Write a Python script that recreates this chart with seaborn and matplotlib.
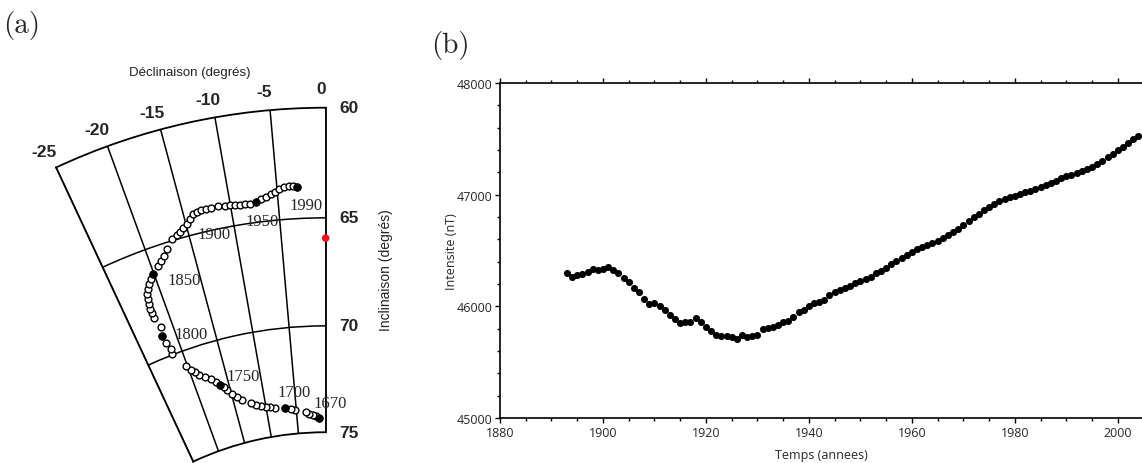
import numpy as np
import matplotlib
matplotlib.use("Agg")
import matplotlib.pyplot as plt
from matplotlib.ticker import MultipleLocator
import seaborn as sns

# (a) trajectoire : declinaison / inclinaison en degres, de 1670 a 1990
decl_path = [-1.15, -1.71, -2.26, -2.83, -3.38, -5.19, -5.85, -6.95, -8.58, -9.27,
             -10.03, -10.81, -11.58, -12.32, -13.62, -14.33, -14.98, -15.46, -15.79, -16.37,
             -16.80, -17.41, -18.10, -18.80, -19.35, -19.81, -20.18, -21.37, -21.34, -21.64,
             -21.80, -21.49, -21.85, -21.88, -21.92, -21.81, -21.76, -21.62, -21.33, -20.91,
             -20.56, -20.11, -19.32, -18.79, -18.26, -17.75, -16.83, -16.26, -15.82, -15.37,
             -14.92, -14.45, -14.01, -13.57, -13.06, -12.60, -12.07, -11.24, -10.59, -10.03,
             -9.55, -9.00, -8.47, -7.98, -7.33, -6.78, -6.24, -5.69, -5.26, -4.80,
             -4.27, -3.75, -3.30, -2.90]
incl_path = [74.33, 74.24, 74.17, 74.10, 74.02, 73.88, 73.83, 73.76, 73.67, 73.62,
             73.57, 73.49, 73.39, 73.26, 73.01, 72.82, 72.63, 72.38, 72.21, 72.07,
             71.85, 71.67, 71.49, 71.30, 71.13, 70.98, 70.71, 69.97, 69.73, 69.36,
             69.00, 68.60, 68.08, 67.83, 67.65, 67.42, 67.18, 66.95, 66.75, 66.53,
             66.37, 66.19, 65.90, 65.73, 65.56, 65.30, 64.94, 64.80, 64.70, 64.60,
             64.46, 64.28, 64.09, 64.02, 63.99, 64.00, 64.00, 63.97, 64.01, 64.03,
             64.06, 64.10, 64.10, 64.11, 64.07, 63.98, 63.90, 63.80, 63.71, 63.60,
             63.52, 63.49, 63.50, 63.56]
# points noirs (1670, 1700, 1750, 1800, 1850, 1950, 1990)
decl_dark = [-1.15, -6.95, -16.37, -21.80, -20.11, -7.33, -2.90]
incl_dark = [74.33, 73.76, 72.07, 69.00, 66.19, 64.07, 63.56]
# point actuel (rouge)
decl_now = [0.0]
incl_now = [65.93]

decl_ticks = [-25, -20, -15, -10, -5, 0]
incl_ticks = [60, 65, 70, 75]
year_labels = ["1670", "1700", "1750", "1800", "1850", "1900", "1950", "1990"]

# (b) intensite du champ (nT), une valeur par an
years = list(range(1893, 2005))
intensity = [46300, 46262, 46283, 46289, 46307, 46331, 46322, 46337, 46355, 46325,
             46298, 46251, 46218, 46167, 46125, 46063, 46021, 46030, 46006, 45964,
             45922, 45886, 45851, 45860, 45863, 45893, 45863, 45815, 45779, 45746,
             45737, 45731, 45722, 45707, 45740, 45722, 45737, 45746, 45794, 45803,
             45818, 45836, 45860, 45866, 45908, 45946, 45967, 46000, 46030, 46042,
             46060, 46104, 46125, 46146, 46167, 46185, 46206, 46224, 46242, 46262,
             46295, 46320, 46346, 46379, 46409, 46436, 46460, 46490, 46510, 46528,
             46549, 46570, 46585, 46609, 46636, 46663, 46692, 46731, 46767, 46797,
             46830, 46862, 46889, 46916, 46940, 46961, 46979, 46991, 47009, 47024,
             47036, 47051, 47069, 47084, 47104, 47125, 47146, 47167, 47179, 47197,
             47209, 47227, 47245, 47271, 47301, 47334, 47361, 47397, 47430, 47463,
             47499, 47528]


def stereo(inc):
    # projection stereographique de l'inclinaison
    return np.tan(np.radians(90 - np.asarray(inc, dtype=float)) / 2)


sns.set_style("ticks")
plt.rcParams['font.family'] = ['Liberation Sans', 'DejaVu Sans']

fig = plt.figure(figsize=(11.42, 4.64), dpi=100)

# ---------- (a) ----------
ax_a = fig.add_axes([0.0122, 0.0030, 0.3099, 0.7627], projection='polar')
ax_a.set_theta_zero_location('N')
ax_a.set_theta_direction(-1)

sns.scatterplot(x=np.radians(decl_path), y=stereo(incl_path), ax=ax_a, s=24,
                marker='o', facecolor='white', edgecolor='black', linewidth=1.0, zorder=3)
sns.scatterplot(x=np.radians(decl_dark), y=stereo(incl_dark), ax=ax_a, s=24,
                color='black', edgecolor='black', linewidth=1.0, zorder=4)
sns.scatterplot(x=np.radians(decl_now), y=stereo(incl_now), ax=ax_a, s=30,
                color='#e8141c', edgecolor='none', linewidth=0, zorder=5, clip_on=False)

ax_a.set_xticks(np.radians(decl_ticks))
ax_a.set_yticks(stereo([65, 70]))
ax_a.set_xticklabels([])
ax_a.set_yticklabels([])
ax_a.tick_params(length=0)
ax_a.grid(True, color='black', linewidth=1.1, linestyle='-')
for sp in ax_a.spines.values():
    sp.set_color('black')
    sp.set_linewidth(1.3)
ax_a.set_xlabel('')
ax_a.set_ylabel('')
ax_a.set_thetamin(-25)
ax_a.set_thetamax(0)
ax_a.set_ylim(stereo(75), stereo(60))
ax_a.set_rorigin(0)

r_top = float(stereo(60))
for d in decl_ticks:
    ax_a.text(np.radians(d - 0.35), r_top * 1.03, str(d), ha='center', va='center',
              fontsize=12.5, fontweight='bold', clip_on=False)
for i in incl_ticks:
    ax_a.annotate(str(i), xy=(0, stereo(i)), xytext=(17, 0), textcoords='offset points',
                  ha='center', va='center', fontsize=12.5, fontweight='bold',
                  annotation_clip=False)

label_pos = [(0.82, 73.6), (-5.11, 73.03), (-12.55, 71.9), (-18.14, 69.37),
             (-16.95, 66.89), (-12.34, 65.18), (-6.87, 64.96), (-2.12, 64.39)]
for lab, (d, i) in zip(year_labels, label_pos):
    ax_a.text(np.radians(d), stereo(i), lab, ha='center', va='center', fontsize=12,
              family='Liberation Serif', clip_on=False, zorder=6)

fig.text(0.1664, 0.8427, 'Déclinaison (degrés)', ha='center', va='center', fontsize=9.5,
         color='#222222')
fig.text(0.338, 0.418, 'Inclinaison (degrés)', ha='center', va='center', fontsize=10,
         rotation=90, color='#222222')

# ---------- (b) ----------
ax_b = fig.add_axes([0.43783, 0.09698, 0.56217, 0.72198])
sns.scatterplot(x=years, y=intensity, ax=ax_b, color='black', s=26, linewidth=0)
ax_b.set_xlim(1880, 2004.7)
ax_b.set_ylim(45000, 48000)
ax_b.xaxis.set_major_locator(MultipleLocator(20))
ax_b.xaxis.set_minor_locator(MultipleLocator(5))
ax_b.yaxis.set_major_locator(MultipleLocator(1000))
ax_b.yaxis.set_minor_locator(MultipleLocator(200))
ax_b.tick_params(which='both', direction='out', top=True, right=False, width=1,
                 color='black', labelsize=9, labelfontfamily='Open Sans')
ax_b.tick_params(which='major', length=3.5, pad=2)
ax_b.tick_params(which='minor', length=2)
ax_b.spines['right'].set_visible(False)
for s in ['left', 'bottom', 'top']:
    ax_b.spines[s].set_linewidth(1.2)
    ax_b.spines[s].set_color('black')
ax_b.set_xlabel('Temps (annees)', fontsize=9, family='Open Sans')
ax_b.set_ylabel('Intensite (nT)', fontsize=9, family='Open Sans')
ax_b.xaxis.set_label_coords(0.5, -0.09)
ax_b.yaxis.set_label_coords(-0.066, 0.5)

fig.text(0.0193, 0.946, '(a)', ha='center', va='center', fontsize=21, family='cmr10')
fig.text(0.394, 0.903, '(b)', ha='center', va='center', fontsize=21, family='cmr10')

fig.savefig('out.png', dpi=100)
